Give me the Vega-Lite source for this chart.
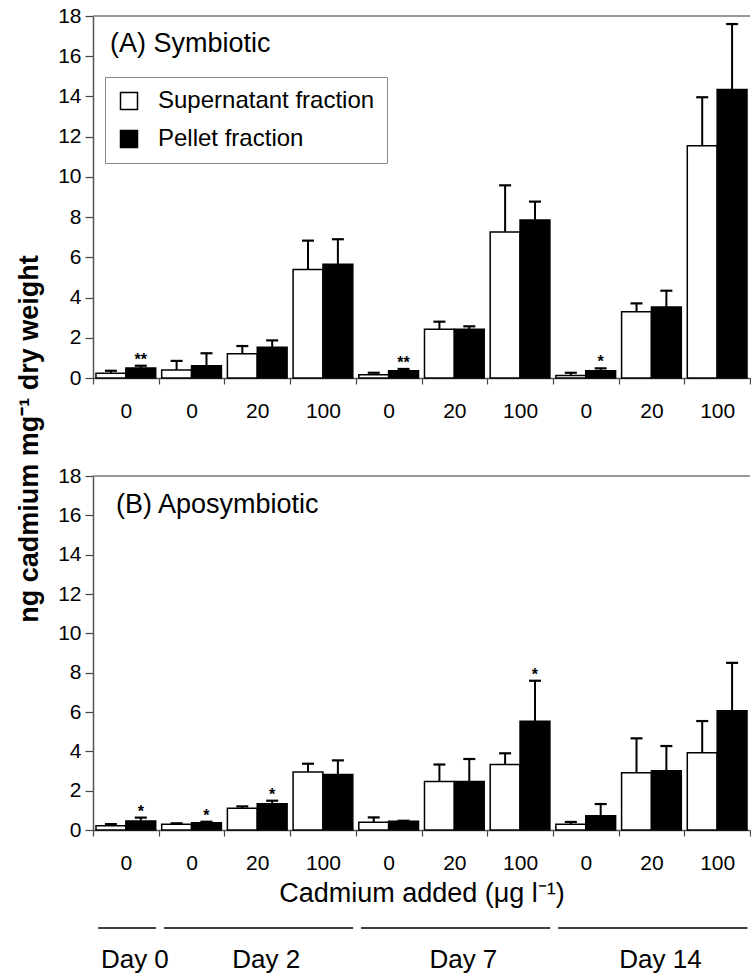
{
  "$schema": "https://vega.github.io/schema/vega-lite/v6.json",
  "padding": {"left": 15, "top": 5, "right": 0, "bottom": 0},
  "autosize": {"type": "pad"},
  "background": "white",
  "config": {
    "font": "Liberation Sans",
    "view": {"stroke": null},
    "axis": {"labelFont": "Liberation Sans", "labelColor": "black", "labelFontSize": 21, "labelOverlap": false, "domainColor": "#555", "domainWidth": 1.5, "tickColor": "#444", "tickWidth": 1.2, "grid": false, "titleFont": "Liberation Sans", "titleColor": "black", "titleFontWeight": "normal"},
    "legend": {"labelFont": "Liberation Sans"}
  },
  "title": {"text": "ng cadmium mg⁻¹ dry weight", "orient": "left", "anchor": "middle", "fontSize": 27, "fontWeight": "bold", "color": "black", "font": "Liberation Sans", "offset": 14, "dx": 50},
  "bounds": "flush",
  "spacing": 98,
  "resolve": {"legend": {"fill": "independent"}},
  "datasets": {
    "cd": [
      {"panel": "A", "group": "D0|0", "fraction": "Supernatant fraction", "value": 0.23, "upper": 0.36, "sig": null},
      {"panel": "A", "group": "D0|0", "fraction": "Pellet fraction", "value": 0.50, "upper": 0.61, "sig": "**"},
      {"panel": "A", "group": "D2|0", "fraction": "Supernatant fraction", "value": 0.40, "upper": 0.85, "sig": null},
      {"panel": "A", "group": "D2|0", "fraction": "Pellet fraction", "value": 0.61, "upper": 1.23, "sig": null},
      {"panel": "A", "group": "D2|20", "fraction": "Supernatant fraction", "value": 1.21, "upper": 1.59, "sig": null},
      {"panel": "A", "group": "D2|20", "fraction": "Pellet fraction", "value": 1.53, "upper": 1.87, "sig": null},
      {"panel": "A", "group": "D2|100", "fraction": "Supernatant fraction", "value": 5.40, "upper": 6.83, "sig": null},
      {"panel": "A", "group": "D2|100", "fraction": "Pellet fraction", "value": 5.65, "upper": 6.90, "sig": null},
      {"panel": "A", "group": "D7|0", "fraction": "Supernatant fraction", "value": 0.16, "upper": 0.26, "sig": null},
      {"panel": "A", "group": "D7|0", "fraction": "Pellet fraction", "value": 0.36, "upper": 0.45, "sig": "**"},
      {"panel": "A", "group": "D7|20", "fraction": "Supernatant fraction", "value": 2.42, "upper": 2.80, "sig": null},
      {"panel": "A", "group": "D7|20", "fraction": "Pellet fraction", "value": 2.42, "upper": 2.57, "sig": null},
      {"panel": "A", "group": "D7|100", "fraction": "Supernatant fraction", "value": 7.26, "upper": 9.58, "sig": null},
      {"panel": "A", "group": "D7|100", "fraction": "Pellet fraction", "value": 7.86, "upper": 8.77, "sig": null},
      {"panel": "A", "group": "D14|0", "fraction": "Supernatant fraction", "value": 0.13, "upper": 0.26, "sig": null},
      {"panel": "A", "group": "D14|0", "fraction": "Pellet fraction", "value": 0.36, "upper": 0.48, "sig": "*"},
      {"panel": "A", "group": "D14|20", "fraction": "Supernatant fraction", "value": 3.30, "upper": 3.71, "sig": null},
      {"panel": "A", "group": "D14|20", "fraction": "Pellet fraction", "value": 3.53, "upper": 4.34, "sig": null},
      {"panel": "A", "group": "D14|100", "fraction": "Supernatant fraction", "value": 11.55, "upper": 13.96, "sig": null},
      {"panel": "A", "group": "D14|100", "fraction": "Pellet fraction", "value": 14.34, "upper": 17.60, "sig": null},
      {"panel": "B", "group": "D0|0", "fraction": "Supernatant fraction", "value": 0.22, "upper": 0.30, "sig": null},
      {"panel": "B", "group": "D0|0", "fraction": "Pellet fraction", "value": 0.46, "upper": 0.63, "sig": "*"},
      {"panel": "B", "group": "D2|0", "fraction": "Supernatant fraction", "value": 0.29, "upper": 0.34, "sig": null},
      {"panel": "B", "group": "D2|0", "fraction": "Pellet fraction", "value": 0.37, "upper": 0.42, "sig": "*"},
      {"panel": "B", "group": "D2|20", "fraction": "Supernatant fraction", "value": 1.10, "upper": 1.20, "sig": null},
      {"panel": "B", "group": "D2|20", "fraction": "Pellet fraction", "value": 1.34, "upper": 1.49, "sig": "*"},
      {"panel": "B", "group": "D2|100", "fraction": "Supernatant fraction", "value": 2.95, "upper": 3.37, "sig": null},
      {"panel": "B", "group": "D2|100", "fraction": "Pellet fraction", "value": 2.82, "upper": 3.54, "sig": null},
      {"panel": "B", "group": "D7|0", "fraction": "Supernatant fraction", "value": 0.39, "upper": 0.64, "sig": null},
      {"panel": "B", "group": "D7|0", "fraction": "Pellet fraction", "value": 0.44, "upper": 0.47, "sig": null},
      {"panel": "B", "group": "D7|20", "fraction": "Supernatant fraction", "value": 2.47, "upper": 3.33, "sig": null},
      {"panel": "B", "group": "D7|20", "fraction": "Pellet fraction", "value": 2.47, "upper": 3.61, "sig": null},
      {"panel": "B", "group": "D7|100", "fraction": "Supernatant fraction", "value": 3.33, "upper": 3.90, "sig": null},
      {"panel": "B", "group": "D7|100", "fraction": "Pellet fraction", "value": 5.53, "upper": 7.59, "sig": "*"},
      {"panel": "B", "group": "D14|0", "fraction": "Supernatant fraction", "value": 0.29, "upper": 0.41, "sig": null},
      {"panel": "B", "group": "D14|0", "fraction": "Pellet fraction", "value": 0.73, "upper": 1.32, "sig": null},
      {"panel": "B", "group": "D14|20", "fraction": "Supernatant fraction", "value": 2.91, "upper": 4.66, "sig": null},
      {"panel": "B", "group": "D14|20", "fraction": "Pellet fraction", "value": 3.01, "upper": 4.27, "sig": null},
      {"panel": "B", "group": "D14|100", "fraction": "Supernatant fraction", "value": 3.93, "upper": 5.54, "sig": null},
      {"panel": "B", "group": "D14|100", "fraction": "Pellet fraction", "value": 6.06, "upper": 8.50, "sig": null}
    ],
    "days": [
      {"day": "Day 0", "first": "D0|0", "mid": "D0|0", "last": "D0|0"},
      {"day": "Day 2", "first": "D2|0", "mid": "D2|20", "last": "D2|100"},
      {"day": "Day 7", "first": "D7|0", "mid": "D7|20", "last": "D7|100"},
      {"day": "Day 14", "first": "D14|0", "mid": "D14|20", "last": "D14|100"}
    ],
    "edge": [{"limit": 18}]
  },
  "vconcat": [
    {
      "width": 657, "height": 362,
      "layer": [
        {
          "data": {"name": "edge"},
          "mark": {"type": "rule", "color": "#777", "strokeWidth": 1.5},
          "encoding": {"y": {"field": "limit", "type": "quantitative", "scale": {"domain": [0, 18], "nice": false}, "axis": {"title": null, "values": [0, 2, 4, 6, 8, 10, 12, 14, 16, 18], "tickCount": 12, "labelOverlap": false, "tickSize": 8, "labelPadding": 4}}}
        },
        {
          "data": {"name": "cd"},
          "transform": [{"filter": "datum.panel == 'A'"}],
          "mark": {"type": "bar", "stroke": "black", "strokeWidth": 1.5},
          "encoding": {
            "x": {"field": "group", "type": "nominal", "sort": null, "scale": {"domain": ["D0|0", "D2|0", "D2|20", "D2|100", "D7|0", "D7|20", "D7|100", "D14|0", "D14|20", "D14|100"], "paddingInner": 0, "paddingOuter": 0}, "axis": {"title": null, "labelExpr": "split(datum.value, '|')[1]", "labelAngle": 0, "tickBand": "extent", "tickSize": 6, "labelPadding": 16}},
            "xOffset": {"field": "fraction", "type": "nominal", "sort": null, "scale": {"domain": ["Supernatant fraction", "Pellet fraction"], "paddingOuter": 0.1, "paddingInner": 0}},
            "y": {"field": "value", "type": "quantitative", "scale": {"domain": [0, 18], "nice": false}, "axis": {"title": null, "values": [0, 2, 4, 6, 8, 10, 12, 14, 16, 18], "tickCount": 12, "labelOverlap": false, "tickSize": 8, "labelPadding": 4}},
            "fill": {"field": "fraction", "type": "nominal", "sort": null, "scale": {"domain": ["Supernatant fraction", "Pellet fraction"], "range": ["#ffffff", "#000000"]},
              "legend": {"orient": "none", "legendX": 12, "legendY": 61, "title": null, "symbolType": "square", "symbolSize": 289, "symbolStrokeColor": "black", "symbolStrokeWidth": 1.5, "labelFontSize": 24, "labelLimit": 0, "labelColor": "black", "labelOffset": 17, "rowPadding": 14, "padding": 12, "strokeColor": "#888", "fillColor": "white"}}
          }
        },
        {
          "data": {"name": "cd"},
          "transform": [{"filter": "datum.panel == 'A'"}],
          "mark": {"type": "rule", "color": "black", "strokeWidth": 2},
          "encoding": {
            "x": {"field": "group", "type": "nominal", "sort": null},
            "xOffset": {"field": "fraction", "type": "nominal", "sort": null},
            "y": {"field": "value", "type": "quantitative"},
            "y2": {"field": "upper"}
          }
        },
        {
          "data": {"name": "cd"},
          "transform": [{"filter": "datum.panel == 'A'"}],
          "mark": {"type": "tick", "color": "black", "size": 12, "thickness": 2.2, "opacity": 1},
          "encoding": {
            "x": {"field": "group", "type": "nominal", "sort": null},
            "xOffset": {"field": "fraction", "type": "nominal", "sort": null},
            "y": {"field": "upper", "type": "quantitative"}
          }
        },
        {
          "data": {"name": "cd"},
          "transform": [{"filter": "datum.panel == 'A' && datum.sig != null"}],
          "mark": {"type": "text", "fontSize": 16, "fontWeight": "bold", "baseline": "alphabetic", "dy": -1, "color": "black"},
          "encoding": {
            "x": {"field": "group", "type": "nominal", "sort": null},
            "xOffset": {"field": "fraction", "type": "nominal", "sort": null},
            "y": {"field": "upper", "type": "quantitative"},
            "text": {"field": "sig"}
          }
        },
        {
          "data": {"values": [{"label": "(A) Symbiotic"}]},
          "mark": {"type": "text", "fontSize": 27, "align": "left", "baseline": "alphabetic", "dx": 17, "color": "black"},
          "encoding": {
            "x": {"datum": "D0|0", "type": "nominal", "bandPosition": 0},
            "y": {"datum": 16.2, "type": "quantitative"},
            "text": {"field": "label"}
          }
        }
      ]
    },
    {
      "width": 657, "height": 354,
      "layer": [
        {
          "data": {"name": "edge"},
          "mark": {"type": "rule", "color": "#777", "strokeWidth": 1.5},
          "encoding": {"y": {"field": "limit", "type": "quantitative", "scale": {"domain": [0, 18], "nice": false}, "axis": {"title": null, "values": [0, 2, 4, 6, 8, 10, 12, 14, 16, 18], "tickCount": 12, "labelOverlap": false, "tickSize": 8, "labelPadding": 4}}}
        },
        {
          "data": {"name": "cd"},
          "transform": [{"filter": "datum.panel == 'B'"}],
          "mark": {"type": "bar", "stroke": "black", "strokeWidth": 1.5},
          "encoding": {
            "x": {"field": "group", "type": "nominal", "sort": null, "scale": {"domain": ["D0|0", "D2|0", "D2|20", "D2|100", "D7|0", "D7|20", "D7|100", "D14|0", "D14|20", "D14|100"], "paddingInner": 0, "paddingOuter": 0}, "axis": {"title": "Cadmium added (μg l⁻¹)", "titleFontSize": 27, "titlePadding": 7, "labelExpr": "split(datum.value, '|')[1]", "labelAngle": 0, "tickBand": "extent", "tickSize": 6, "labelPadding": 16}},
            "xOffset": {"field": "fraction", "type": "nominal", "sort": null, "scale": {"domain": ["Supernatant fraction", "Pellet fraction"], "paddingOuter": 0.1, "paddingInner": 0}},
            "y": {"field": "value", "type": "quantitative", "scale": {"domain": [0, 18], "nice": false}, "axis": {"title": null, "values": [0, 2, 4, 6, 8, 10, 12, 14, 16, 18], "tickCount": 12, "labelOverlap": false, "tickSize": 8, "labelPadding": 4}},
            "fill": {"field": "fraction", "type": "nominal", "sort": null, "scale": {"domain": ["Supernatant fraction", "Pellet fraction"], "range": ["#ffffff", "#000000"]}, "legend": null}
          }
        },
        {
          "data": {"name": "cd"},
          "transform": [{"filter": "datum.panel == 'B'"}],
          "mark": {"type": "rule", "color": "black", "strokeWidth": 2},
          "encoding": {
            "x": {"field": "group", "type": "nominal", "sort": null},
            "xOffset": {"field": "fraction", "type": "nominal", "sort": null},
            "y": {"field": "value", "type": "quantitative"},
            "y2": {"field": "upper"}
          }
        },
        {
          "data": {"name": "cd"},
          "transform": [{"filter": "datum.panel == 'B'"}],
          "mark": {"type": "tick", "color": "black", "size": 12, "thickness": 2.2, "opacity": 1},
          "encoding": {
            "x": {"field": "group", "type": "nominal", "sort": null},
            "xOffset": {"field": "fraction", "type": "nominal", "sort": null},
            "y": {"field": "upper", "type": "quantitative"}
          }
        },
        {
          "data": {"name": "cd"},
          "transform": [{"filter": "datum.panel == 'B' && datum.sig != null"}],
          "mark": {"type": "text", "fontSize": 16, "fontWeight": "bold", "baseline": "alphabetic", "dy": -1, "color": "black"},
          "encoding": {
            "x": {"field": "group", "type": "nominal", "sort": null},
            "xOffset": {"field": "fraction", "type": "nominal", "sort": null},
            "y": {"field": "upper", "type": "quantitative"},
            "text": {"field": "sig"}
          }
        },
        {
          "data": {"values": [{"label": "(B) Aposymbiotic"}]},
          "mark": {"type": "text", "fontSize": 27, "align": "left", "baseline": "alphabetic", "dx": 23, "color": "black"},
          "encoding": {
            "x": {"datum": "D0|0", "type": "nominal", "bandPosition": 0},
            "y": {"datum": 16.12, "type": "quantitative"},
            "text": {"field": "label"}
          }
        }
      ]
    },
    {
      "width": 657, "height": 40,
      "data": {"name": "days"},
      "layer": [
        {
          "mark": {"type": "rule", "color": "black", "strokeWidth": 1.5},
          "encoding": {
            "x": {"field": "first", "type": "nominal", "bandPosition": 0.08, "scale": {"domain": ["D0|0", "D2|0", "D2|20", "D2|100", "D7|0", "D7|20", "D7|100", "D14|0", "D14|20", "D14|100"], "paddingInner": 0, "paddingOuter": 0}, "axis": null},
            "x2": {"field": "last", "bandPosition": 0.96},
            "y": {"datum": "line", "type": "nominal", "scale": {"type": "point", "domain": ["line", "label"], "padding": 0}, "axis": null}
          }
        },
        {
          "mark": {"type": "text", "fontSize": 26, "baseline": "alphabetic", "dx": 9, "color": "black"},
          "encoding": {
            "x": {"field": "mid", "type": "nominal"},
            "y": {"datum": "label", "type": "nominal"},
            "text": {"field": "day"}
          }
        }
      ]
    }
  ]
}
